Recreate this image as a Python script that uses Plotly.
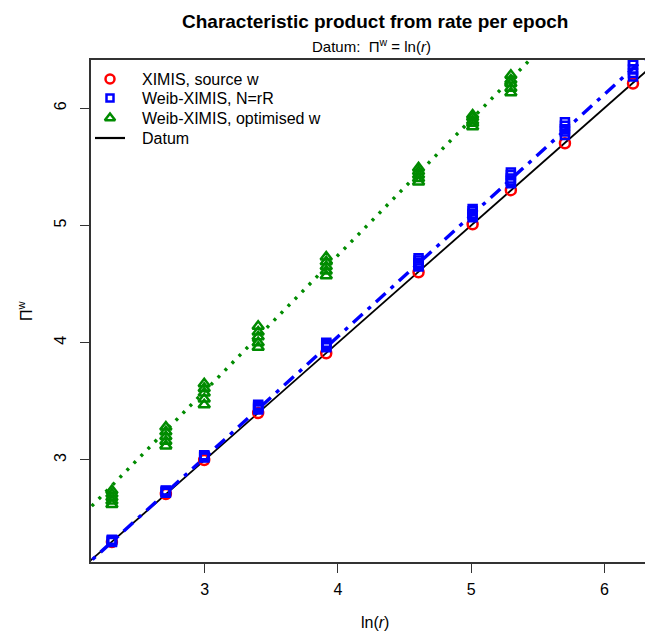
import plotly.graph_objects as go

# ---- data ----
ln_r = [2.303, 2.708, 2.996, 3.401, 3.912, 4.605, 5.011, 5.298, 5.704, 6.215]

ximis_source = [2.30, 2.71, 3.00, 3.40, 3.91, 4.60, 5.01, 5.30, 5.70, 6.21]

weib_nrr = [
    [2.30, 2.305, 2.31, 2.315, 2.32],
    [2.72, 2.725, 2.73, 2.735, 2.74],
    [3.02, 3.025, 3.03, 3.035, 3.04],
    [3.43, 3.44, 3.45, 3.46, 3.47],
    [3.96, 3.97, 3.98, 3.99, 4.00],
    [4.65, 4.665, 4.68, 4.70, 4.72],
    [5.07, 5.09, 5.10, 5.12, 5.14],
    [5.36, 5.38, 5.40, 5.43, 5.45],
    [5.77, 5.80, 5.82, 5.85, 5.88],
    [6.27, 6.30, 6.33, 6.37, 6.40],
]

weib_opt_x = [2.303, 2.708, 2.996, 3.401, 3.912, 4.605, 5.011, 5.298]
weib_opt = [
    [2.62, 2.65, 2.68, 2.71, 2.74],
    [3.12, 3.16, 3.20, 3.24, 3.28],
    [3.47, 3.52, 3.57, 3.61, 3.65],
    [3.96, 4.00, 4.05, 4.09, 4.14],
    [4.57, 4.61, 4.65, 4.69, 4.73],
    [5.37, 5.40, 5.43, 5.46, 5.49],
    [5.84, 5.87, 5.89, 5.92, 5.94],
    [6.13, 6.17, 6.21, 6.24, 6.28],
]

# fitted lines: (slope, intercept)
fit_nrr = (1.032, -0.075)
fit_opt = (1.157, 0.117)
datum = (1.0, 0.0)

legend_labels = ["XIMIS, source w", "Weib-XIMIS, N=rR", "Weib-XIMIS, optimised w", "Datum"]

x_range = [2.146, 6.305]
y_range = [2.13, 6.41]
x_ticks = [3, 4, 5, 6]
y_ticks = [3, 4, 5, 6]

# ---- styles ----
RED, BLUE, GREEN = "#FF0000", "#0000FF", "#008B00"
FONT = "Liberation Sans, Arial, sans-serif"
W, H = 645, 637
ML, MR, MT, MB = 91, 0, 60, 75
PW, PH = W - ML - MR, H - MT - MB

circle = dict(symbol="circle-open", size=10, color=RED, line=dict(width=2.5, color=RED))
square = dict(symbol="square-open", size=8, color=BLUE, line=dict(width=2.5, color=BLUE))
tri = dict(symbol="triangle-up-open", size=10, color=GREEN, line=dict(width=2.5, color=GREEN))


def flat(xs, groups):
    X, Y = [], []
    for x, g in zip(xs, groups):
        for v in g:
            X.append(x)
            Y.append(v)
    return X, Y


def line(coef):
    xs = [x_range[0] - 0.1, x_range[1] + 0.1]
    return xs, [coef[0] * x + coef[1] for x in xs]


fig = go.Figure()

lx, ly = line(datum)
fig.add_trace(go.Scatter(x=lx, y=ly, mode="lines", line=dict(color="black", width=1.8)))
lx, ly = line(fit_nrr)
fig.add_trace(go.Scatter(x=lx, y=ly, mode="lines",
                         line=dict(color=BLUE, width=3.4, dash="13px,7px,4px,7px")))
lx, ly = line(fit_opt)
fig.add_trace(go.Scatter(x=lx, y=ly, mode="lines",
                         line=dict(color=GREEN, width=3.4, dash="3px,7px")))

fig.add_trace(go.Scatter(x=ln_r, y=ximis_source, mode="markers", marker=circle))
bx, by = flat(ln_r, weib_nrr)
fig.add_trace(go.Scatter(x=bx, y=by, mode="markers", marker=square))
gx, gy = flat(weib_opt_x, weib_opt)
fig.add_trace(go.Scatter(x=gx, y=gy, mode="markers", marker=tri))

# ---- manual legend (pixel overlay axes) ----
leg_rows = [19, 38, 58, 78]
leg_sym_x = 19
leg_circle = dict(circle, size=9)
leg_square = dict(square, size=7)
leg_tri = dict(tri, size=9)
fig.add_trace(go.Scatter(x=[leg_sym_x], y=[leg_rows[0]], mode="markers", marker=leg_circle,
                         xaxis="x2", yaxis="y2"))
fig.add_trace(go.Scatter(x=[leg_sym_x], y=[leg_rows[1]], mode="markers", marker=leg_square,
                         xaxis="x2", yaxis="y2"))
fig.add_trace(go.Scatter(x=[leg_sym_x], y=[leg_rows[2]], mode="markers", marker=leg_tri,
                         xaxis="x2", yaxis="y2"))
fig.add_trace(go.Scatter(x=[4, 34], y=[leg_rows[3], leg_rows[3]], mode="lines",
                         line=dict(color="black", width=2.2), xaxis="x2", yaxis="y2"))

annotations = []
for lab, ry in zip(legend_labels, leg_rows):
    annotations.append(dict(text=lab, xref="x2", yref="y2", x=49, y=ry, xanchor="left",
                            yanchor="middle", showarrow=False, font=dict(size=16)))

annotations += [
    dict(text="<b>Characteristic product from rate per epoch</b>", xref="paper", yref="paper",
         x=(375 - ML) / PW, y=1 + (MT - 21) / PH, xanchor="center", yanchor="middle",
         showarrow=False, font=dict(size=19)),
    dict(text="Datum:  Π<sup>w</sup> = ln(<i>r</i>)", xref="paper", yref="paper",
         x=(371 - ML) / PW, y=1 + (MT - 45) / PH, xanchor="center", yanchor="middle",
         showarrow=False, font=dict(size=15)),
    dict(text="ln(<i>r</i>)", xref="paper", yref="paper",
         x=(375 - ML) / PW, y=-(622 - MT - PH) / PH, xanchor="center", yanchor="middle",
         showarrow=False, font=dict(size=16)),
    dict(text="Π<sup>w</sup>", xref="paper", yref="paper", textangle=-90,
         x=-(ML - 25) / PW, y=0.5, xanchor="center", yanchor="middle",
         showarrow=False, font=dict(size=16)),
]

fig.update_layout(
    width=W, height=H,
    margin=dict(l=ML, r=MR, t=MT, b=MB),
    paper_bgcolor="white", plot_bgcolor="white",
    font=dict(family=FONT, size=16, color="black"),
    showlegend=False,
    annotations=annotations,
    xaxis2=dict(overlaying="x", range=[0, PW], visible=False, fixedrange=True),
    yaxis2=dict(overlaying="y", range=[PH, 0], visible=False, fixedrange=True),
    xaxis=dict(range=x_range, tickvals=x_ticks, ticks="outside", ticklen=9, tickwidth=1,
               tickcolor="#333", showgrid=False, zeroline=False, showline=True,
               linecolor="#333", linewidth=1.5, mirror=True, tickfont=dict(size=16),
               ticklabelstandoff=3),
    yaxis=dict(range=y_range, tickvals=y_ticks, ticks="outside", ticklen=9, tickwidth=1,
               tickcolor="#333", showgrid=False, zeroline=False, showline=True,
               linecolor="#333", linewidth=1.5, tickangle=-90, tickfont=dict(size=16),
               ticklabelstandoff=8),
)

fig.write_html("out.html")
